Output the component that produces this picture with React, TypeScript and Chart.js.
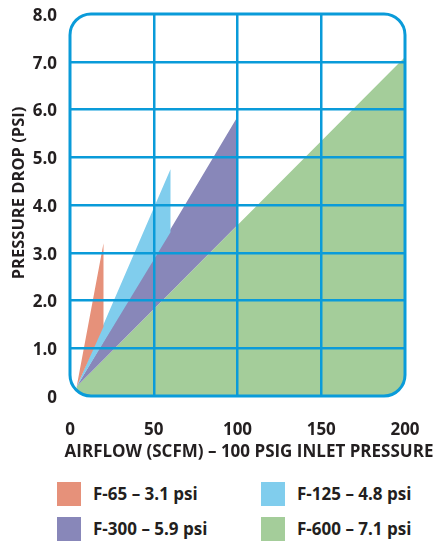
import { useEffect, useRef } from 'react';
import { Chart, registerables } from 'chart.js';

Chart.register(...registerables);

// ---- data ----
const seriesNames = ['F-65 – 3.1 psi', 'F-125 – 4.8 psi', 'F-300 – 5.9 psi', 'F-600 – 7.1 psi'];
const seriesColors = ['#E6917A', '#80CDED', '#8887B9', '#A4CD9A'];

const f65X = [4, 20, 20];
const f65Y = [0.2, 3.2, 1.45];
const f125X = [4, 60, 60];
const f125Y = [0.2, 4.75, 3.43];
const f300X = [4, 100, 100];
const f300Y = [0.2, 5.85, 3.58];
const f600X = [4, 200, 200, 4];
const f600Y = [0.2, 7.1, 0, 0];

const xTickLabels = ['0', '50', '100', '150', '200'];
const yTickLabels = ['0', '1.0', '2.0', '3.0', '4.0', '5.0', '6.0', '7.0', '8.0'];
const xTitle = 'AIRFLOW (SCFM) – 100 PSIG INLET PRESSURE';
const yTitle = 'PRESSURE DROP (PSI)';

const seriesX = [f65X, f125X, f300X, f600X];
const seriesY = [f65Y, f125Y, f300Y, f600Y];

const GRID = '#0A9BD9';
const TEXT = '#231F20';
const FONT = '"Open Sans", "DejaVu Sans", sans-serif';
const CANVAS_W = 435;
const CANVAS_H = 470;

function roundRectPath(ctx: CanvasRenderingContext2D, l: number, t: number, r: number, b: number, rad: number) {
  ctx.beginPath();
  ctx.moveTo(l + rad, t);
  ctx.lineTo(r - rad, t);
  ctx.arcTo(r, t, r, t + rad, rad);
  ctx.lineTo(r, b - rad);
  ctx.arcTo(r, b, r - rad, b, rad);
  ctx.lineTo(l + rad, b);
  ctx.arcTo(l, b, l, b - rad, rad);
  ctx.lineTo(l, t + rad);
  ctx.arcTo(l, t, l + rad, t, rad);
  ctx.closePath();
}

const RADIUS = 21;

const framePlugin = {
  id: 'roundFrame',
  beforeDatasetsDraw(chart: any) {
    const { ctx, chartArea: a } = chart;
    ctx.save();
    roundRectPath(ctx, a.left, a.top, a.right, a.bottom, RADIUS);
    ctx.clip();
  },
  afterDatasetsDraw(chart: any) {
    chart.ctx.restore();
  },
  afterDraw(chart: any) {
    const { ctx, chartArea: a } = chart;
    ctx.save();
    ctx.lineWidth = 3;
    ctx.strokeStyle = GRID;
    roundRectPath(ctx, a.left, a.top, a.right, a.bottom, RADIUS);
    ctx.stroke();

    ctx.fillStyle = TEXT;
    ctx.textAlign = 'center';
    ctx.textBaseline = 'middle';
    ctx.font = `bold 17px ${FONT}`;
    ctx.fillText(xTitle, 249, 452);
    ctx.font = `bold 16.5px ${FONT}`;
    ctx.translate(19, 193);
    ctx.rotate(-Math.PI / 2);
    ctx.fillText(yTitle, 0, 0);
    ctx.restore();
  },
};

const zeroPadding = (scale: any) => {
  scale.paddingLeft = 0;
  scale.paddingRight = 0;
  scale.paddingTop = 0;
  scale.paddingBottom = 0;
};

export default function App() {
  const canvasRef = useRef<HTMLCanvasElement | null>(null);

  useEffect(() => {
    if (!canvasRef.current) return;
    const datasets = seriesNames.map((name, i) => ({
      label: name,
      data: seriesX[i].map((x, j) => ({ x, y: seriesY[i][j] })),
      backgroundColor: seriesColors[i],
      borderColor: seriesColors[i],
      borderWidth: 0,
      pointRadius: 0,
      pointHoverRadius: 0,
      tension: 0,
      fill: 'shape',
    }));

    const tickFont = { family: FONT, weight: 'bold' as const, size: 17 };
    const gridColor = (edgeA: number, edgeB: number) => (ctx: any) =>
      ctx.tick && (ctx.tick.value === edgeA || ctx.tick.value === edgeB) ? 'rgba(0,0,0,0)' : GRID;

    const chart = new Chart(canvasRef.current, {
      type: 'line',
      data: { datasets: datasets as any },
      options: {
        animation: false,
        responsive: false,
        events: [],
        layout: { padding: { left: 0, top: 14, right: 30, bottom: 0 } },
        plugins: {
          legend: { display: false },
          tooltip: { enabled: false },
        },
        scales: {
          x: {
            type: 'linear',
            min: 0,
            max: 200,
            ticks: {
              stepSize: 50,
              padding: 24,
              color: TEXT,
              font: tickFont,
              maxRotation: 0,
              callback: (_v: any, i: number) => xTickLabels[i],
            },
            grid: { color: gridColor(0, 200), lineWidth: 2.5, drawTicks: false, z: 1 },
            border: { display: false },
            afterFit: (scale: any) => {
              scale.height = CANVAS_H - 396;
              zeroPadding(scale);
            },
          },
          y: {
            type: 'linear',
            min: 0,
            max: 8,
            ticks: {
              stepSize: 1,
              padding: 13,
              labelOffset: 2,
              color: TEXT,
              font: tickFont,
              callback: (_v: any, i: number) => yTickLabels[i],
            },
            grid: { color: gridColor(0, 8), lineWidth: 2.5, drawTicks: false, z: 1 },
            border: { display: false },
            afterFit: (scale: any) => {
              scale.width = 70;
              zeroPadding(scale);
            },
          },
        },
      },
      plugins: [framePlugin],
    });
    return () => chart.destroy();
  }, []);

  const legendPos = [
    { sx: 57, sy: 482 },
    { sx: 261, sy: 482 },
    { sx: 57, sy: 517 },
    { sx: 261, sy: 517 },
  ];

  return (
    <div style={{ position: 'absolute', left: 0, top: 0, width: CANVAS_W, height: 544, fontFamily: FONT, background: '#fff' }}>
      <canvas ref={canvasRef} width={CANVAS_W} height={CANVAS_H} style={{ display: 'block', width: CANVAS_W, height: CANVAS_H }} />
      {seriesNames.map((name, i) => (
        <div key={name}>
          <div
            style={{
              position: 'absolute',
              left: legendPos[i].sx,
              top: legendPos[i].sy,
              width: 24,
              height: 24,
              background: seriesColors[i],
            }}
          />
          <div
            style={{
              position: 'absolute',
              left: legendPos[i].sx + 36,
              top: legendPos[i].sy,
              height: 24,
              lineHeight: '24px',
              fontSize: 17,
              fontWeight: 'bold',
              color: TEXT,
              whiteSpace: 'nowrap',
            }}
          >
            {name}
          </div>
        </div>
      ))}
    </div>
  );
}
